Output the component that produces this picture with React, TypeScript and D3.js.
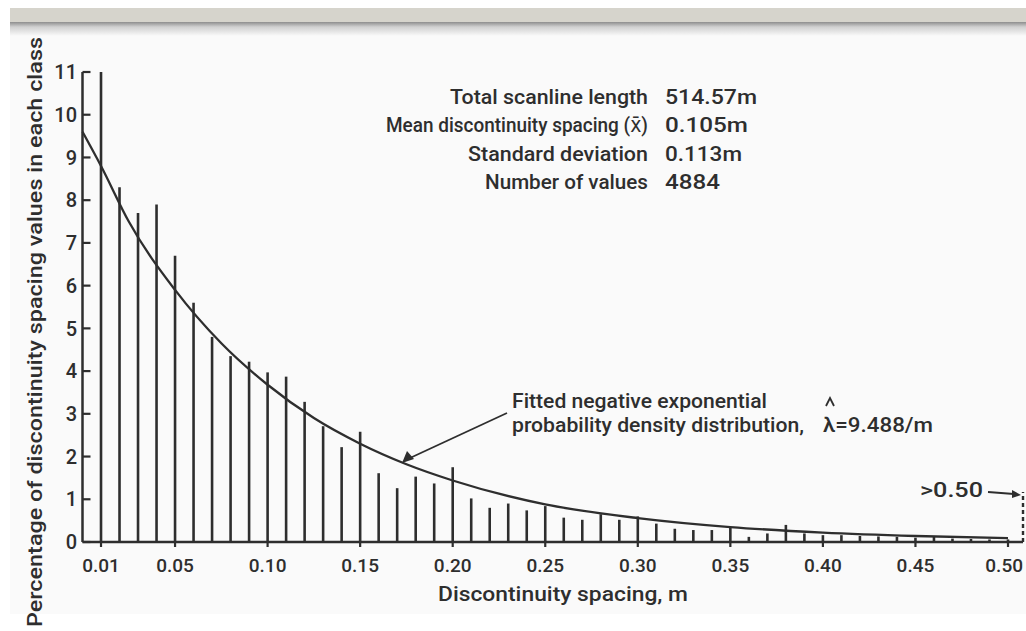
import React from "react";
import * as d3 from "d3";

const categories = [
  0.01, 0.02, 0.03, 0.04, 0.05, 0.06, 0.07, 0.08, 0.09, 0.10,
  0.11, 0.12, 0.13, 0.14, 0.15, 0.16, 0.17, 0.18, 0.19, 0.20,
  0.21, 0.22, 0.23, 0.24, 0.25, 0.26, 0.27, 0.28, 0.29, 0.30,
  0.31, 0.32, 0.33, 0.34, 0.35, 0.36, 0.37, 0.38, 0.39, 0.40,
  0.41, 0.42, 0.43, 0.44, 0.45, 0.46, 0.47, 0.48, 0.49, 0.50,
];
const percentages = [
  11.0, 8.3, 7.7, 7.9, 6.7, 5.6, 4.8, 4.35, 4.22, 3.97,
  3.87, 3.28, 2.71, 2.22, 2.58, 1.61, 1.26, 1.53, 1.37, 1.75,
  1.02, 0.8, 0.9, 0.74, 0.84, 0.57, 0.52, 0.65, 0.52, 0.6,
  0.43, 0.31, 0.28, 0.28, 0.33, 0.12, 0.2, 0.4, 0.2, 0.16,
  0.16, 0.14, 0.13, 0.12, 0.1, 0.12, 0.08, 0.07, 0.06, 0.06,
];
const overflowLabel = ">0.50";
const overflowValue = 1.17;

const curveX = [0, 0.01, 0.025, 0.05, 0.075, 0.10, 0.125, 0.15, 0.175, 0.20, 0.25, 0.30, 0.35, 0.40, 0.45, 0.50];
const curveY = [9.6, 8.8, 7.5, 5.9, 4.65, 3.68, 2.9, 2.3, 1.82, 1.44, 0.88, 0.56, 0.35, 0.22, 0.14, 0.09];

const xTicks = [0.01, 0.05, 0.10, 0.15, 0.20, 0.25, 0.30, 0.35, 0.40, 0.45, 0.50];
const xTickLabels = ["0.01", "0.05", "0.10", "0.15", "0.20", "0.25", "0.30", "0.35", "0.40", "0.45", "0.50"];
const yTicks = [0, 1, 2, 3, 4, 5, 6, 7, 8, 9, 10, 11];

const statLabels = ["Total scanline length", "Mean discontinuity spacing (x\u0304)", "Standard deviation", "Number of values"];
const statValues = ["514.57m", "0.105m", "0.113m", "4884"];
const statLabelWidths = [198, 262, 180, 163];
const statValueWidths = [92, 83, 77, 55];

const xTitle = "Discontinuity spacing,  m";
const yTitle = "Percentage of discontinuity spacing values in each class";
const fitLine1 = "Fitted negative exponential";
const fitLine2 = "probability density distribution,";
const lambdaText = "\u03bb=9.488/m";

const INK = "#2e2e2e";
const FONT = "Roboto, 'DejaVu Sans', sans-serif";
const WEIGHT = 500;

export default function App() {
  const W = 1026;
  const H = 631;
  const x = d3.scaleLinear().domain([0, 0.5]).range([82.5, 1008]);
  const y = d3.scaleLinear().domain([0, 11]).range([542, 72]);
  const line = d3
    .line<number>()
    .x((_, i) => x(curveX[i]))
    .y((d) => y(d))
    .curve(d3.curveMonotoneX);
  const x0 = x(0);
  const y0 = y(0);
  const overflowX = x(0.5) + 15;

  return (
    <svg
      width={W}
      height={H}
      viewBox={`0 0 ${W} ${H}`}
      style={{ position: "absolute", left: 0, top: 0, display: "block" }}
    >
      <defs>
        <linearGradient id="shadow" x1="0" y1="0" x2="0" y2="1">
          <stop offset="0" stopColor="#8e8e8e" />
          <stop offset="0.35" stopColor="#d0d0d0" />
          <stop offset="1" stopColor="#fafafa" />
        </linearGradient>
      </defs>
      <rect x={0} y={0} width={W} height={H} fill="#ffffff" />
      <rect x={10} y={24} width={W - 10} height={590} fill="#fafafa" />
      <rect x={10} y={8} width={W - 10} height={15} fill="#d6d4cc" />
      <rect x={10} y={22} width={W - 10} height={14} fill="url(#shadow)" />

      {/* y axis */}
      <line x1={x0} x2={x0} y1={y0} y2={y(11)} stroke={INK} strokeWidth={2.5} />
      {yTicks.map((t) => (
        <g key={t}>
          <line x1={x0} x2={x0 + 8} y1={y(t)} y2={y(t)} stroke={INK} strokeWidth={2.2} />
          <text
            x={77}
            y={y(t)}
            dy="0.36em"
            textAnchor="end"
            fontFamily={FONT}
            fontWeight={WEIGHT}
            fontSize={20}
            fill={INK}
          >
            {t}
          </text>
        </g>
      ))}

      {/* x axis */}
      <line x1={x0} x2={overflowX} y1={y0} y2={y0} stroke={INK} strokeWidth={2.5} />
      {xTicks.map((t, i) => {
        const last = i === xTicks.length - 1;
        return (
          <g key={t}>
            <line x1={x(t)} x2={x(t)} y1={y0} y2={y0 + 5} stroke={INK} strokeWidth={2.2} />
            <text
              x={last ? W - 3 : x(t)}
              y={572}
              textAnchor={last ? "end" : "middle"}
              fontFamily={FONT}
              fontWeight={WEIGHT}
              fontSize={19}
              fill={INK}
            >
              {xTickLabels[i]}
            </text>
          </g>
        );
      })}

      {/* bars */}
      {categories.map((c, i) => (
        <line
          key={c}
          x1={x(c)}
          x2={x(c)}
          y1={y0}
          y2={y(percentages[i])}
          stroke={INK}
          strokeWidth={2.6}
        />
      ))}
      <line
        x1={overflowX}
        x2={overflowX}
        y1={y0}
        y2={y(overflowValue)}
        stroke={INK}
        strokeWidth={2.4}
        strokeDasharray="4 3"
      />

      {/* fitted curve */}
      <path d={line(curveY) || ""} fill="none" stroke={INK} strokeWidth={2.3} />

      {/* annotation arrow */}
      <line x1={507} y1={413} x2={410} y2={458} stroke={INK} strokeWidth={1.8} />
      <path d="M402,463 L407,451 L414,459 Z" fill={INK} />
      <text x={512} y={408} fontFamily={FONT} fontWeight={WEIGHT} fontSize={20.5} fill={INK} textLength={255} lengthAdjust="spacingAndGlyphs">
        {fitLine1}
      </text>
      <text x={512} y={432} fontFamily={FONT} fontWeight={WEIGHT} fontSize={20.5} fill={INK} textLength={292} lengthAdjust="spacingAndGlyphs">
        {fitLine2}
      </text>
      <text x={823} y={432} fontFamily={FONT} fontWeight={WEIGHT} fontSize={20.5} fill={INK} textLength={110} lengthAdjust="spacingAndGlyphs">
        {lambdaText}
      </text>
      <path d="M826,406 L830,398 L834,406" fill="none" stroke={INK} strokeWidth={1.8} />

      {/* overflow label */}
      <text x={920} y={497} fontFamily={FONT} fontWeight={WEIGHT} fontSize={20.5} fill={INK} textLength={63} lengthAdjust="spacingAndGlyphs">
        {overflowLabel}
      </text>
      <line x1={988} y1={492} x2={1014} y2={494} stroke={INK} strokeWidth={1.8} />
      <path d="M1021,495 L1012,490 L1012,498 Z" fill={INK} />

      {/* statistics */}
      {statLabels.map((s, i) => (
        <g key={s}>
          <text
            x={648}
            y={104 + i * 28.4}
            textAnchor="end"
            fontFamily={FONT}
            fontWeight={WEIGHT}
            fontSize={20.5}
            fill={INK}
            textLength={statLabelWidths[i]}
            lengthAdjust="spacingAndGlyphs"
          >
            {s}
          </text>
          <text
            x={665}
            y={104 + i * 28.4}
            fontFamily={FONT}
            fontWeight={WEIGHT}
            fontSize={20.5}
            fill={INK}
            textLength={statValueWidths[i]}
            lengthAdjust="spacingAndGlyphs"
          >
            {statValues[i]}
          </text>
        </g>
      ))}

      {/* axis titles */}
      <text x={438} y={601} fontFamily={FONT} fontWeight={WEIGHT} fontSize={21} fill={INK} textLength={250} lengthAdjust="spacingAndGlyphs">
        {xTitle}
      </text>
      <text
        transform="translate(42,37) rotate(-90)"
        textAnchor="end"
        fontFamily={FONT}
        fontWeight={WEIGHT}
        fontSize={21}
        fill={INK}
        textLength={590}
        lengthAdjust="spacingAndGlyphs"
      >
        {yTitle}
      </text>
    </svg>
  );
}
